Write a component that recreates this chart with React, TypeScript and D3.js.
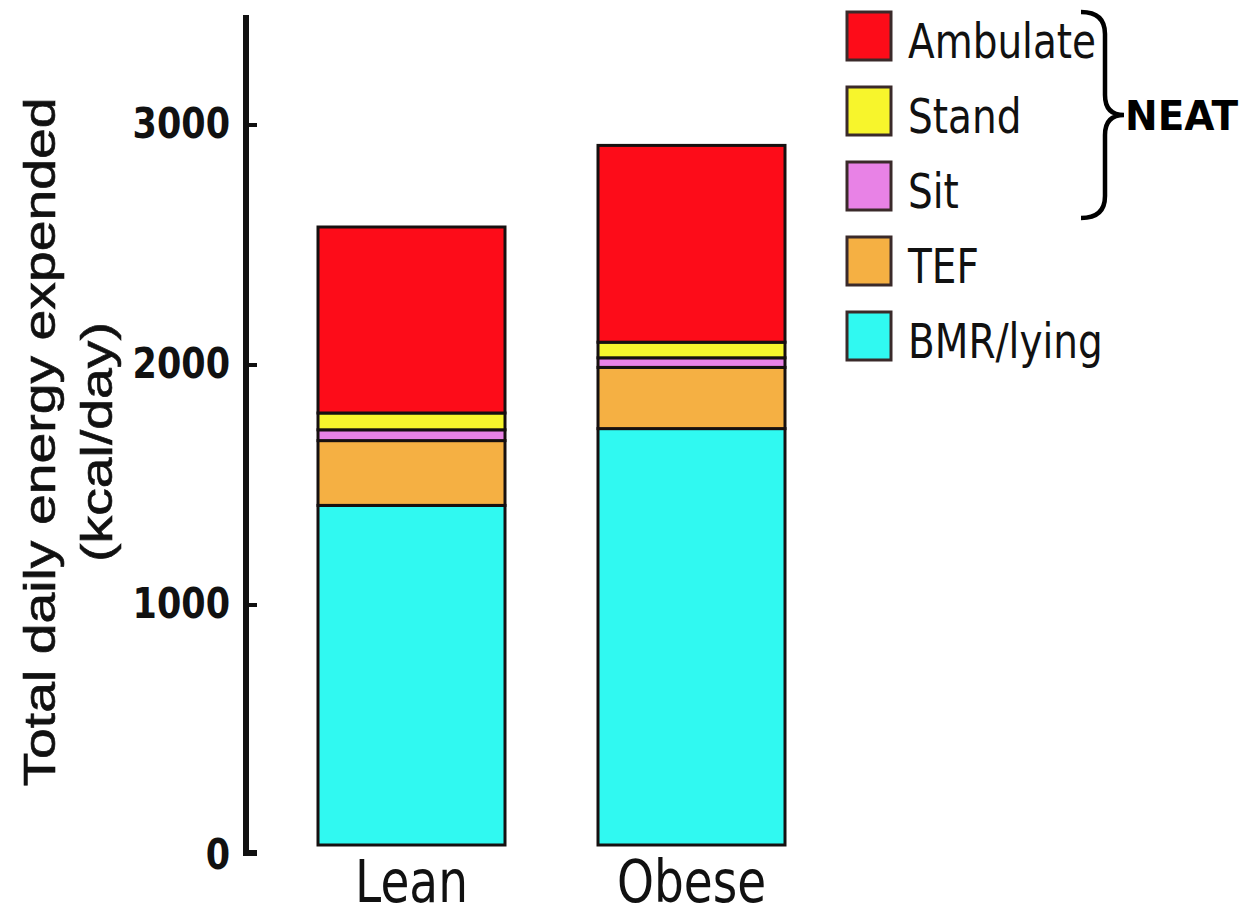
import React from "react";
import * as d3 from "d3";

// data (kcal/day)
const groups = ["Lean", "Obese"];
const parts = ["BMR/lying", "TEF", "Sit", "Stand", "Ambulate"];
const leanValues = [1415, 270, 45, 70, 775];
const obeseValues = [1735, 255, 40, 65, 820];
const yTicks = [0, 1000, 2000, 3000];
const legendOrder = ["Ambulate", "Stand", "Sit", "TEF", "BMR/lying"];
const neatParts = ["Ambulate", "Stand", "Sit"];

const colors: Record<string, string> = {
  Ambulate: "#fd0c19",
  Stand: "#f7f52c",
  Sit: "#e882e6",
  TEF: "#f5b043",
  "BMR/lying": "#30f9f1",
};

const W = 1252;
const H = 915;
const SY = 1.23; // the picture is stretched vertically

const StretchText: React.FC<{
  x: number; y: number; size: number; anchor?: string; weight?: string; family?: string; children: React.ReactNode;
}> = ({ x, y, size, anchor = "start", weight = "normal", family = "DejaVu Sans", children }) => (
  <text
    transform={`translate(${x},${y}) scale(1,${SY})`}
    fontSize={size}
    fontFamily={family}
    fontWeight={weight}
    textAnchor={anchor}
    fill="#111"
  >
    {children}
  </text>
);

const App: React.FC = () => {
  const y = d3.scaleLinear().domain([0, 3000]).range([845, 125]);
  const x = d3.scalePoint<string>().domain(groups).range([411.5, 691.5]);
  const barW = 187;

  const rows = groups.map((g, i) => {
    const vals = i === 0 ? leanValues : obeseValues;
    const row: Record<string, any> = { group: g };
    parts.forEach((p, j) => (row[p] = vals[j]));
    return row;
  });
  const series = d3.stack().keys(parts)(rows as any);

  const axisX = 246;
  const legendX = 847;
  const legendY = d3.scalePoint<string>().domain(legendOrder).range([36, 336]);
  const neatTop = (legendY(neatParts[0]) as number) - 24;
  const neatBot = (legendY(neatParts[neatParts.length - 1]) as number) + 32;
  const neatMid = (neatTop + neatBot) / 2;

  return (
    <svg width={W} height={H} style={{ position: "absolute", left: 0, top: 0, background: "#fff" }}>
      {/* bars */}
      {series.map(s => (
        <g key={s.key}>
          {s.map((d, i) => (
            <rect
              key={i}
              x={(x(groups[i]) as number) - barW / 2}
              y={y(d[1])}
              width={barW}
              height={y(d[0]) - y(d[1])}
              fill={colors[s.key]}
              stroke="#161010"
              strokeWidth={3}
            />
          ))}
        </g>
      ))}

      {/* y axis */}
      <path
        d={`M${axisX},15 L${axisX},${y(0) + 8} L${axisX + 11},${y(0) + 8}`}
        fill="none"
        stroke="#111"
        strokeWidth={6}
      />
      {yTicks.map(t => (
        <g key={t}>
          {t > 0 && <line x1={axisX} x2={axisX + 11} y1={y(t)} y2={y(t)} stroke="#111" strokeWidth={4} />}
          <StretchText x={230} y={y(t) + (t === 0 ? 24 : 13)} size={35} anchor="end" weight="bold">
            {t}
          </StretchText>
        </g>
      ))}

      {/* y title */}
      <text
        transform={`translate(55,442) rotate(-90) scale(${SY},1)`}
        fontSize={45}
        fontFamily="Liberation Sans"
        textAnchor="middle"
        fill="#111"
        stroke="#111"
        strokeWidth={0.6}
      >
        Total daily energy expended
      </text>
      <text
        transform={`translate(112,442) rotate(-90) scale(${SY},1)`}
        fontSize={45}
        fontFamily="Liberation Sans"
        textAnchor="middle"
        fill="#111"
        stroke="#111"
        strokeWidth={0.6}
      >
        (kcal/day)
      </text>

      {/* category labels */}
      {groups.map(g => (
        <StretchText key={g} x={x(g) as number} y={902} size={47} anchor="middle">
          {g}
        </StretchText>
      ))}

      {/* legend */}
      {legendOrder.map(k => {
        const cy = legendY(k) as number;
        return (
          <g key={k}>
            <rect x={legendX} y={cy - 24} width={44} height={48} fill={colors[k]} stroke="#3a2a2a" strokeWidth={3} />
            <StretchText x={908} y={cy + 22} size={39}>
              {k}
            </StretchText>
          </g>
        );
      })}

      {/* NEAT brace */}
      <path
        d={`M1081,${neatTop} Q1105,${neatTop} 1105,${neatTop + 22} L1105,${neatMid - 20} Q1105,${neatMid} 1124,${neatMid} Q1105,${neatMid} 1105,${neatMid + 20} L1105,${neatBot - 22} Q1105,${neatBot} 1081,${neatBot}`}
        fill="none"
        stroke="#000"
        strokeWidth={4.5}
      />
      <text
        x={1125}
        y={neatMid + 15}
        fontSize={40}
        fontFamily="DejaVu Sans"
        fontWeight="bold"
        textLength={113}
        lengthAdjust="spacingAndGlyphs"
        fill="#000"
      >
        NEAT
      </text>
    </svg>
  );
};

export default App;
